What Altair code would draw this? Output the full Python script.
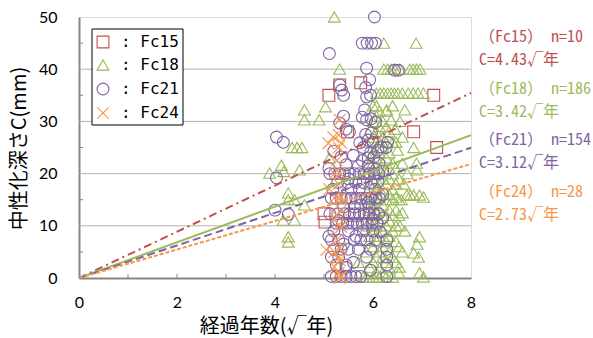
import altair as alt
import pandas as pd

W, H = 392, 261

series = ["Fc15", "Fc18", "Fc21", "Fc24"]
colors = ["#C0504D", "#9BBB59", "#8064A2", "#F79646"]
shapes = ["square", "triangle-up", "circle", "M-1,-1L1,1M-1,1L1,-1"]
slopes = [4.43, 3.42, 3.12, 2.73]
counts = [10, 186, 154, 28]
dashes = [[8, 4, 2, 4], [1, 0], [8, 4], [4, 2]]

x_ticks = [0, 2, 4, 6, 8]
y_ticks = [0, 10, 20, 30, 40, 50]
grid_vals = [10, 20, 30, 40]
x_minor = [1, 2, 3, 4, 5, 6, 7]
y_minor = [5, 15, 25, 35, 45]

# Fc15 (squares)
fc15_x = [5.10, 5.32, 5.75, 7.24, 6.83, 7.30, 5.48, 5.00, 5.02, 5.62]
fc15_y = [35.0, 37.0, 37.4, 35.0, 28.0, 25.0, 28.0, 12.3, 10.7, 12.0]

# Fc24 (crosses)
fc24_x = [5.32, 5.30, 5.19, 5.35, 5.09, 5.30, 5.32, 5.21, 5.30, 5.35, 5.21, 5.32, 5.26, 5.30,
          5.35, 5.26, 5.32, 5.05, 5.21, 5.30, 5.32, 5.21, 5.30, 5.35, 5.32, 5.26, 5.11, 5.35]
fc24_y = [30.3, 27.4, 27.0, 25.9, 25.8, 25.0, 20.1, 20.0, 18.0, 15.5, 15.3, 15.3, 12.0, 10.2,
          9.8, 7.3, 5.7, 5.4, 5.0, 4.0, 3.4, 2.1, 1.0, 0.2, 0.0, 22.5, 17.0, 13.0]

# Fc21 (circles): scattered points
fc21_x = [4.03, 4.17, 4.03, 4.00, 4.27,
          6.03, 5.11, 5.78, 5.88, 5.97, 6.05, 5.87, 6.44, 6.52, 5.93, 5.32, 5.36, 5.40, 5.87,
          5.95, 5.83, 5.78, 5.87, 5.96, 6.05, 5.32, 5.45, 5.52, 5.90, 6.00, 6.17, 6.27, 5.73,
          5.80, 5.95, 5.35, 6.02, 6.12, 5.10, 5.70, 5.90, 6.07,
          5.85, 5.97, 6.10, 5.90, 5.78, 5.40, 5.85, 5.45, 6.10, 6.20, 6.20, 6.15, 5.40, 5.60,
          5.95, 6.20, 5.55, 5.30, 5.65, 5.90, 5.20, 5.60, 5.50, 5.75, 6.00, 5.10, 5.45, 6.30]
fc21_y = [27.0, 26.0, 19.2, 13.0, 12.2,
          50.0, 43.0, 45.0, 45.0, 45.0, 45.0, 40.2, 39.8, 39.8, 38.0, 37.0, 36.0, 35.0, 34.7,
          35.0, 32.2, 30.8, 30.3, 30.5, 29.8, 29.7, 28.5, 28.0, 26.4, 26.0, 25.1, 25.0, 25.9,
          25.0, 24.0, 23.2, 23.2, 22.0, 21.0, 21.5, 21.5, 20.8,
          27.5, 27.8, 24.5, 23.0, 22.5, 31.0, 36.5, 21.7, 18.5, 16.0, 11.5, 8.8, 6.5, 3.0,
          1.5, 20.5, 17.0, 11.0, 8.0, 14.5, 24.3, 23.5, 19.0, 14.0, 11.3, 8.0, 2.0, 26.0]
# Fc21 (circles): rows of the dense block (y value, x values)
fc21_rows = [
    (20.0, [5.12, 5.22, 5.32, 5.42, 5.52, 5.62, 5.72, 5.82, 5.92, 6.02, 6.12]),
    (18.3, [5.28, 5.48, 5.65, 5.80, 5.96]),
    (17.0, [5.18, 5.72, 6.04]),
    (15.3, [5.15, 5.25, 5.35, 5.45, 5.55, 5.65, 5.75, 5.85, 5.95, 6.05, 6.13]),
    (13.6, [5.40, 5.62, 5.92]),
    (12.3, [5.12, 5.28, 5.42, 5.52, 5.62, 5.72, 5.82, 5.92, 6.02, 6.12]),
    (10.5, [5.25, 5.38, 5.48, 5.58, 5.68, 5.78, 5.88, 5.98, 6.08]),
    (9.0, [5.20, 5.50, 5.80, 6.00]),
    (7.3, [5.15, 5.30, 5.62, 5.75, 5.87, 6.05, 6.28]),
    (5.5, [5.20, 5.35, 5.50, 5.70, 5.95, 6.28]),
    (4.0, [5.15, 5.30, 5.87, 6.28]),
    (2.5, [5.25, 5.45, 6.28]),
    (0.3, [5.15, 5.25, 5.35, 5.45, 5.55, 5.65, 5.75, 6.28]),
]

# Fc18 (triangles): scattered points
fc18_x = [3.89, 4.13, 4.18, 4.50, 4.27, 4.27, 4.40, 4.60, 4.17, 4.40, 4.27, 4.27, 4.35, 4.45,
          4.55, 4.60, 4.60, 4.90, 5.03, 5.11, 5.21, 5.32,
          6.22, 6.88,
          6.22, 6.30, 6.37, 6.44, 6.55, 6.75, 6.82, 6.89, 6.96,
          6.07, 6.15, 6.22, 6.30, 6.37, 6.44, 6.51, 6.60, 6.72, 6.82, 6.92, 7.03,
          6.65, 6.28, 6.60, 6.83, 6.89, 6.90, 6.70, 6.58, 6.69, 6.76, 6.83, 6.95, 7.03, 6.55,
          6.95, 6.83, 6.93, 6.90, 6.60, 6.54, 6.95, 7.03,
          5.80, 5.70, 6.60, 6.63, 6.60, 6.50, 6.45, 6.55, 6.37, 6.40, 6.47, 6.00, 5.95, 6.65]
fc18_y = [20.1, 21.6, 20.4, 20.7, 16.3, 15.0, 15.0, 14.0, 11.1, 11.1, 7.9, 6.9, 25.0, 25.0,
          25.0, 32.2, 30.3, 30.3, 32.8, 23.0, 50.0, 40.0,
          45.0, 45.0,
          40.0, 40.0, 40.0, 40.0, 40.0, 40.0, 40.0, 40.0, 40.0,
          35.4, 35.4, 35.4, 35.4, 35.4, 35.4, 35.4, 35.4, 35.4, 35.4, 35.4, 35.4,
          32.2, 32.2, 27.0, 25.0, 22.0, 20.7, 20.0, 15.0, 15.9, 15.9, 15.9, 15.9, 15.5, 10.0,
          7.9, 4.8, 4.0, 6.5, 5.0, 2.1, 1.0, 0.2,
          0.2, 3.0, 12.5, 18.0, 22.0, 24.5, 28.5, 30.0, 30.3, 33.0, 26.0, 33.0, 28.5, 9.0]
# Fc18 (triangles): columns of the dense block (x value, y values)
fc18_cols = [
    (5.87, [0.2, 5, 10, 15, 20, 26]),
    (5.93, [2, 8, 13, 18, 23]),
    (6.00, [0.2, 3, 6, 9, 12, 14, 16, 19, 22, 24, 27, 30]),
    (6.07, [1, 4, 7, 10, 12.5, 15, 17, 20, 23, 25, 28, 31, 33]),
    (6.13, [0.2, 2, 5, 8, 11, 13, 15.5, 18, 21, 24, 26, 29, 32]),
    (6.20, [1, 4, 6, 9, 12, 14, 16, 19, 22, 25, 27, 30]),
    (6.27, [0.2, 3, 7, 10, 12, 15, 18, 20, 23, 26, 29, 32]),
    (6.33, [2, 5, 8, 11, 13, 16, 19, 21, 24, 28]),
    (6.40, [0.2, 4, 9, 12, 15, 17, 20, 22, 26]),
    (6.47, [3, 7, 10, 13, 15.5, 18, 21]),
    (6.53, [1, 6, 12, 15, 19]),
]

rows = []
for x, y in zip(fc15_x, fc15_y):
    rows.append({"x": x, "y": y, "s": "Fc15"})
for x, y in zip(fc18_x, fc18_y):
    rows.append({"x": x, "y": y, "s": "Fc18"})
for x, ys in fc18_cols:
    for y in ys:
        rows.append({"x": x, "y": y, "s": "Fc18"})
for x, y in zip(fc21_x, fc21_y):
    rows.append({"x": x, "y": y, "s": "Fc21"})
for y, xs in fc21_rows:
    for x in xs:
        rows.append({"x": x, "y": y, "s": "Fc21"})
for x, y in zip(fc24_x, fc24_y):
    rows.append({"x": x, "y": y, "s": "Fc24"})
pts = pd.DataFrame(rows)

LABEL_FONT = "Lato"
JP_FONT = "Noto Sans CJK JP"
MONO_FONT = "Noto Sans Mono CJK JP, Noto Sans CJK JP"
LEG_FONT = "DejaVu Sans Mono"

xscale = alt.Scale(domain=[0, 8], nice=False, zero=False)
yscale = alt.Scale(domain=[0, 50], nice=False, zero=False)

x_axis = alt.Axis(values=x_ticks, grid=False, ticks=False, domainColor="#868686", domainWidth=2,
                  labelFont=LABEL_FONT, labelFontSize=16, labelColor="black", labelPadding=16,
                  labelFlush=False, labelOverlap=False,
                  title="経過年数(√年)", titleFont=JP_FONT, titleFontSize=20,
                  titleFontWeight="normal", titleColor="black", titleX=187, titleY=48,
                  titleBaseline="middle", titleAlign="center")
y_axis = alt.Axis(values=y_ticks, grid=False, ticks=False, domainColor="#868686", domainWidth=2,
                  labelFont=LABEL_FONT, labelFontSize=16, labelColor="black", labelPadding=22,
                  labelFlush=False, labelOverlap=False,
                  title="中性化深さC(mm)", titleFont=JP_FONT, titleFontSize=20,
                  titleFontWeight="normal", titleColor="black", titleX=-60, titleY=131,
                  titleAngle=270, titleBaseline="middle", titleAlign="center")


def X(field):
    return alt.X(field, type="quantitative", scale=xscale, axis=x_axis)


def Y(field):
    return alt.Y(field, type="quantitative", scale=yscale, axis=y_axis)


grid = alt.Chart(pd.DataFrame({"g": grid_vals})).mark_rule(color="#B3B3B3", strokeWidth=1).encode(
    y=Y("g"), x=alt.value(0), x2=alt.value(W))
yt = alt.Chart(pd.DataFrame({"g": y_minor})).mark_rule(color="#868686", strokeWidth=1).encode(
    y=Y("g"), x=alt.value(0), x2=alt.value(4))
xt = alt.Chart(pd.DataFrame({"g": x_minor})).mark_rule(color="#868686", strokeWidth=1).encode(
    x=X("g"), y=alt.value(H), y2=alt.value(H - 4))

points = alt.Chart(pts).mark_point(filled=False, size=140, strokeWidth=1.1, opacity=1).encode(
    x=X("x"), y=Y("y"),
    color=alt.Color("s:N", scale=alt.Scale(domain=series, range=colors), legend=None),
    shape=alt.Shape("s:N", scale=alt.Scale(domain=series, range=shapes), legend=None),
)

layers = [grid, yt, xt, points]

for s, c, k, d in zip(series, colors, slopes, dashes):
    ldf = pd.DataFrame({"x": [0, 8], "y": [0, k * 8]})
    layers.append(alt.Chart(ldf).mark_line(color=c, strokeWidth=2, strokeDash=d).encode(
        x=X("x"), y=Y("y")))

# legend box
layers.append(alt.Chart(pd.DataFrame({"a": [0]})).mark_rect(
    fill="white", stroke="black", strokeWidth=1).encode(
    x=alt.value(13), x2=alt.value(104), y=alt.value(12), y2=alt.value(108)))
leg_y = [25, 48, 72, 96]
for s, c, sh, ly in zip(series, colors, shapes, leg_y):
    layers.append(alt.Chart(pd.DataFrame({"s": [s]})).mark_point(
        filled=False, size=140, strokeWidth=1.1, color=c, shape=sh, opacity=1).encode(
        x=alt.value(24), y=alt.value(ly)))
    layers.append(alt.Chart(pd.DataFrame({"t": [": " + s]})).mark_text(
        font=LEG_FONT, fontSize=16, color="black", align="left", baseline="middle").encode(
        text="t:N", x=alt.value(42), y=alt.value(ly)))

# right annotations
ann_y = [20, 72, 123, 175]
for s, c, k, n, ay in zip(series, colors, slopes, counts, ann_y):
    t1 = f"（{s}） n={n}"
    t2 = f"C={k:.2f}√年"
    for t, dy in [(t1, 0), (t2, 23)]:
        layers.append(alt.Chart(pd.DataFrame({"t": [t]})).mark_text(
            font=MONO_FONT, fontSize=16, color=c, align="left", baseline="middle").encode(
            text="t:N", x=alt.value(400), y=alt.value(ay + dy)))

chart = alt.layer(*layers).properties(
    width=W, height=H,
    padding={"left": 79, "top": 17, "right": 122, "bottom": 60},
    autosize=alt.AutoSizeParams(type="none"),
).configure_view(stroke="black", strokeWidth=1.5).configure(background="white")

chart.save("out.html", embed_options={"renderer": "svg", "actions": False})
